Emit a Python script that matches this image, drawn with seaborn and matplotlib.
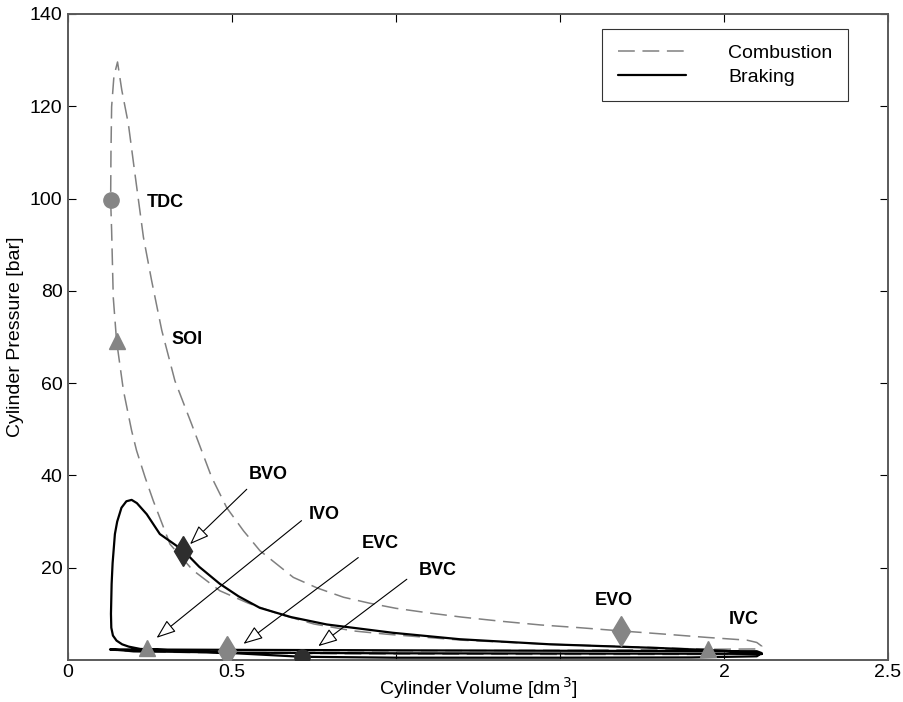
import seaborn as sns
import matplotlib.pyplot as plt
import pandas as pd

# Combustion cycle (volume dm^3, pressure bar), in path order
comb_v = [2.115, 1.952, 1.7, 1.47, 1.2, 0.97, 0.87, 0.75, 0.646, 0.55, 0.463, 0.38, 0.311,
          0.26, 0.235, 0.209, 0.194, 0.169, 0.148, 0.138, 0.133, 0.130, 0.131, 0.133, 0.140,
          0.151, 0.164, 0.184, 0.204, 0.23, 0.255, 0.286, 0.326, 0.377, 0.438, 0.484, 0.535,
          0.585, 0.687, 0.76, 0.84, 0.92, 1.0, 1.1, 1.2, 1.32, 1.44, 1.56, 1.686, 1.82, 1.947,
          2.07, 2.1, 2.115, 2.11, 1.5, 1.0, 0.5, 0.2, 0.128, 0.2, 0.5, 1.0, 1.5, 2.0, 2.115]
comb_p = [1.5, 2.3, 2.9, 3.4, 4.3, 5.6, 6.3, 7.8, 9.9, 12.3, 15.0, 19.5, 25.1,
          34.5, 39.6, 45.4, 49.7, 58.4, 69.2, 78.6, 93.1, 99.6, 110.0, 119.9, 126.5,
          129.6, 123.5, 116.2, 105.4, 91.6, 82.2, 71.4, 60.5, 51.1, 39.6, 33.0, 28.0,
          23.7, 17.9, 15.6, 13.6, 12.3, 11.2, 10.2, 9.3, 8.4, 7.6, 7.0, 6.3, 5.6, 4.9,
          4.3, 3.8, 3.0, 2.4, 2.1, 2.0, 2.1, 2.2, 2.2, 1.8, 1.5, 1.3, 1.2, 1.2, 1.5]

# Braking cycle
brake_v = [2.115, 2.0, 1.8, 1.47, 1.195, 0.99, 0.789, 0.68, 0.585, 0.52, 0.463, 0.40, 0.352,
           0.31, 0.28, 0.24, 0.21, 0.194, 0.178, 0.163, 0.150, 0.143, 0.136, 0.133, 0.131,
           0.132, 0.137, 0.148, 0.165, 0.185, 0.22, 0.35, 0.5, 0.712, 1.0, 1.5, 1.9, 2.1,
           2.115, 2.1, 1.5, 1.0, 0.5, 0.128, 0.2, 0.5, 1.0, 1.5, 2.0, 2.115]
brake_p = [1.3, 2.0, 2.6, 3.4, 4.5, 5.9, 7.7, 9.3, 11.3, 13.8, 16.5, 20.2, 23.7,
           25.8, 27.3, 31.6, 34.0, 34.7, 34.4, 33.0, 30.0, 27.3, 21.0, 16.5, 10.0,
           7.0, 5.3, 4.2, 3.4, 2.9, 2.4, 2.0, 1.5, 0.7, 0.5, 0.5, 0.55, 0.8,
           1.5, 1.9, 2.0, 2.1, 2.2, 2.3, 1.9, 1.6, 1.45, 1.4, 1.35, 1.3]

# event markers
events = ["TDC", "SOI", "BVO", "IVO", "EVC", "BVC", "EVO", "IVC"]
event_v = [0.130, 0.148, 0.352, 0.24, 0.484, 0.712, 1.686, 1.952]
event_p = [99.6, 69.2, 23.7, 2.7, 2.0, 0.7, 6.3, 2.3]
event_marker = ["o", "^", "d", "^", "d", "o", "d", "^"]
event_color = ["#858585", "#858585", "#2e2e2e", "#858585", "#858585", "#2e2e2e", "#858585", "#858585"]

# labels placed directly next to markers
direct_labels = ["TDC", "SOI", "EVO", "IVC"]
direct_v = [0.24, 0.316, 1.607, 2.013]
direct_p = [99.2, 69.4, 12.8, 8.7]

# labels with arrows: text start, arrow start, arrow tip
arrow_labels = ["BVO", "IVO", "EVC", "BVC"]
arrow_text_v = [0.55, 0.733, 0.895, 1.068]
arrow_text_p = [40.1, 31.6, 25.2, 19.5]
arrow_from_v = [0.545, 0.712, 0.885, 1.033]
arrow_from_p = [37.0, 30.2, 22.2, 17.5]
arrow_to_v = [0.372, 0.27, 0.535, 0.763]
arrow_to_p = [25.1, 4.8, 3.5, 3.0]

sns.set_style("ticks")
plt.rcParams['font.family'] = ['Liberation Sans', 'DejaVu Sans']
plt.rcParams['text.color'] = 'black'
plt.rcParams['axes.labelcolor'] = 'black'
plt.rcParams['xtick.color'] = 'black'
plt.rcParams['ytick.color'] = 'black'

fig = plt.figure(figsize=(9.04, 7.02), dpi=100)
ax = fig.add_axes([68 / 904, 42 / 702, 820 / 904, 646 / 702])

comb = pd.DataFrame({"v": comb_v, "p": comb_p})
brake = pd.DataFrame({"v": brake_v, "p": brake_p})

sns.lineplot(data=comb, x="v", y="p", sort=False, estimator=None, ax=ax,
             color="#808080", lw=1.1, linestyle=(0, (11, 5)), label="Combustion")
sns.lineplot(data=brake, x="v", y="p", sort=False, estimator=None, ax=ax,
             color="black", lw=1.6, label="Braking")

for v, p, m, c in zip(event_v, event_p, event_marker, event_color):
    ms = 15 if m == "d" else (12 if m == "^" else 11)
    ax.plot(v, p, marker=m, color=c, markersize=ms, markeredgecolor=c, ls="none", zorder=5)

for t, v, p in zip(direct_labels, direct_v, direct_p):
    ax.text(v, p, t, fontsize=13, fontweight="bold", ha="left", va="center")

for t, tv, tp, fv, fp, hv, hp in zip(arrow_labels, arrow_text_v, arrow_text_p,
                                     arrow_from_v, arrow_from_p, arrow_to_v, arrow_to_p):
    ax.text(tv, tp, t, fontsize=13, fontweight="bold", ha="left", va="center")
    ax.annotate("", xy=(hv, hp), xytext=(fv, fp),
                arrowprops=dict(arrowstyle="-|>,head_length=1.2,head_width=0.45",
                                ec="black", fc="white", lw=0.8, shrinkA=0, shrinkB=0))

ax.set_xlim(0, 2.5)
ax.set_ylim(0, 140)
ax.set_xticks([0, 0.5, 1, 1.5, 2, 2.5])
ax.set_xticklabels(["0", "0.5", "", "", "2", "2.5"])
ax.set_yticks([20, 40, 60, 80, 100, 120, 140])
ax.tick_params(direction="in", top=True, right=True, length=6, labelsize=14)
ax.tick_params(axis="x", pad=3)
ax.tick_params(axis="y", pad=4)
ax.set_xlabel("Cylinder Volume [dm$^{\\,3}$]", fontsize=14, va="center")
ax.xaxis.set_label_coords(0.5, -28 / 646)
ax.set_ylabel("Cylinder Pressure [bar]", fontsize=14, labelpad=4)
for s in ax.spines.values():
    s.set_color("#5a5a5a")
    s.set_linewidth(1.4)

leg = ax.legend(loc="upper left", bbox_to_anchor=((602 - 68) / 820, (660 - 29) / 646),
                fontsize=14, frameon=True, fancybox=False, handlelength=3.5,
                handletextpad=2.2, labelspacing=0.3, borderpad=0.8, borderaxespad=0)
leg.get_frame().set_edgecolor("black")
leg.get_frame().set_linewidth(0.8)

fig.savefig("out.png", dpi=100)
